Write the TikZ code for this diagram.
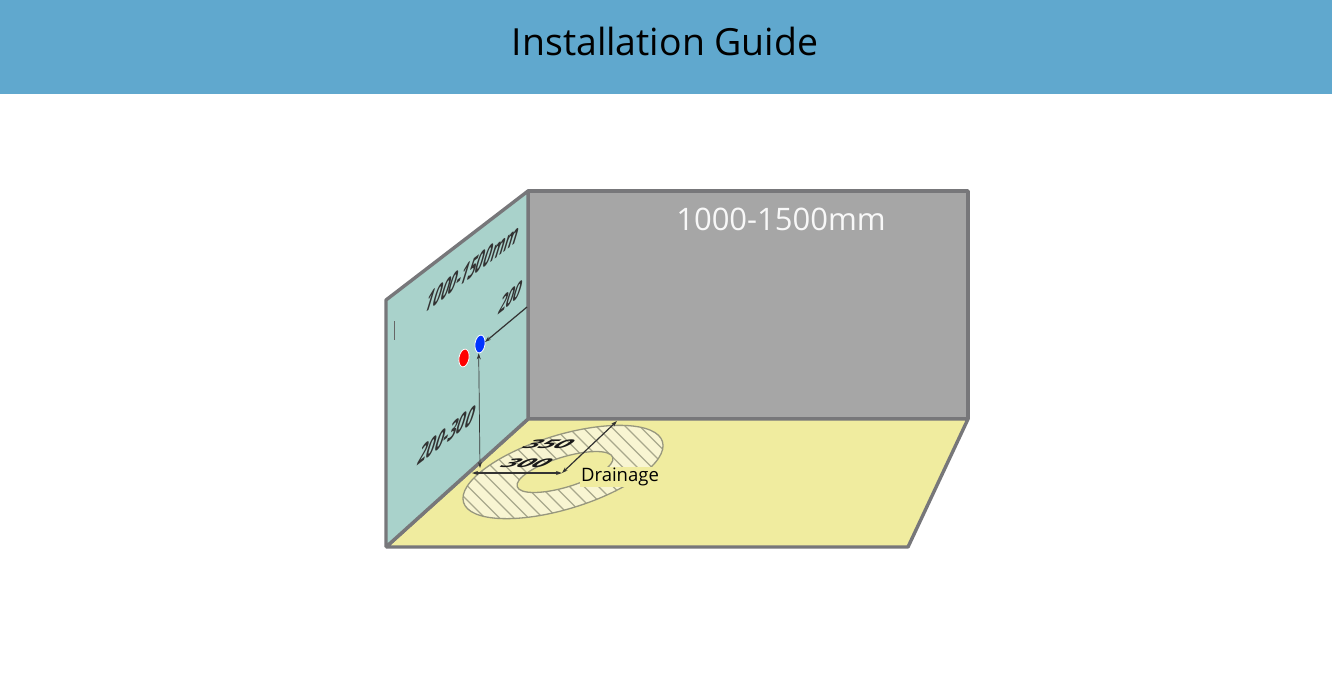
\documentclass[tikz,border=0pt]{standalone}
\usepackage{fontspec}
\setmainfont{Open Sans}
\usetikzlibrary{arrows.meta, positioning, shapes.geometric}
\definecolor{headerblue}{HTML}{60A8CE}
\definecolor{wallgrey}{HTML}{A6A6A6}
\definecolor{edgegrey}{HTML}{77777A}
\definecolor{wallteal}{HTML}{A9D2CB}
\definecolor{flooryellow}{HTML}{F0EC9F}
\definecolor{ringfill}{HTML}{F8F5D2}
\definecolor{hatchgrey}{HTML}{A8A88C}

\begin{document}
\begin{tikzpicture}[
    x=1pt, y=-1pt,
    face/.style={draw=edgegrey, line width=3.4pt, line join=bevel},
    dimline/.style={draw=black!80, {Stealth[length=6pt,width=4pt]}-{Stealth[length=6pt,width=4pt]}},
    walllabel/.style={text=black!80, inner sep=0pt, transform shape},
    floorlabel/.style={text=black!90, font=\fontsize{24}{26}\selectfont\bfseries\itshape, inner sep=0pt, transform shape},
    pipe/.style={ellipse, draw=white, line width=0.8pt, minimum width=10pt, minimum height=18pt, inner sep=0pt},
    wallskew/.style={cm={#1*0.788,#1*0.616,0.29,0.96,(0,0)}},
    floorskew/.style={cm={1.15,0,0.6,0.5,(0,0)}}
]
\useasboundingbox (0,0) rectangle (1332,675);

% Header
\fill[headerblue] (0,0) rectangle (1332,94);
\node[font=\fontsize{37.4}{42}\selectfont, text=black] (title) at (665,41) {Installation Guide};

% Walls and floor
\filldraw[face, fill=wallgrey] (528,191) -- (968,191) -- (968,419) -- (528,419) -- cycle;
\filldraw[face, fill=flooryellow] (386,547) -- (528,419) -- (968,419) -- (908,547) -- cycle;
\filldraw[face, fill=wallteal] (386,300) -- (528,191) -- (528,419) -- (386,547) -- cycle;

% Drain ring
\begin{scope}
    \clip[shift={(563,472)}, rotate=17] (0,0) ellipse [x radius=104, y radius=37];
    \fill[ringfill] (440,410) rectangle (680,530);
    \foreach \i in {0,...,26} {
        \draw[hatchgrey, line width=1.3pt] (\i*14.5+290,410) -- (\i*14.5+410,530);
    }
\end{scope}
\draw[hatchgrey!90!black, line width=1.3pt, shift={(563,472)}, rotate=17] (0,0) ellipse [x radius=104, y radius=37];
\filldraw[fill=flooryellow, draw=hatchgrey!90!black, line width=1.3pt, shift={(565,472)}, rotate=17] (0,0) ellipse [x radius=50, y radius=15];

% Pipes
\node[pipe, fill=red, rotate=-10] (hot) at (464,358) {};
\node[pipe, fill=blue!80!cyan, rotate=-8] (cold) at (480,344) {};

% Dimension ends
\coordinate (wallend) at (527,307);
\coordinate (cornerlow) at (480,468);
\coordinate (cornerleft) at (472,473);
\coordinate (draincentre) at (562,473);
\coordinate (backend) at (617,421);

% Dimensions
\draw[dimline, line width=1.2pt, {Stealth[length=6pt,width=4pt]}-] (cold) ++(5,-2) coordinate (coldtip) -- (wallend);
\draw[dimline, line width=0.7pt] (cold.south) -- (cornerlow);
\draw[dimline, line width=1.4pt] (cornerleft) -- (draincentre);
\draw[dimline, line width=1.2pt] (draincentre) -- (backend);

% Labels
\node[font=\fontsize{31}{34}\selectfont, text=white!92!wallgrey] (backwidth) at (781,219) {1000-1500mm};
\begin{scope}[shift={(473,268)}, wallskew=0.53]
    \node[walllabel, font=\fontsize{32}{34}\selectfont\bfseries] (sidewidth) at (0,0) {1000-1500mm};
\end{scope}
\begin{scope}[shift={(511,297)}, wallskew=0.58]
    \node[walllabel, font=\fontsize{28}{30}\selectfont\bfseries] (valveside) at (0,0) {200};
\end{scope}
\begin{scope}[shift={(447,435)}, wallskew=0.62]
    \node[walllabel, font=\fontsize{30}{32}\selectfont\bfseries] (valveheight) at (0,0) {200-300};
\end{scope}
\begin{scope}[shift={(527,463)}, floorskew]
    \node[floorlabel] (ringinner) at (0,0) {300};
\end{scope}
\begin{scope}[shift={(549,444)}, floorskew]
    \node[floorlabel] (ringouter) at (0,0) {350};
\end{scope}
\node[fill=flooryellow, inner sep=1pt, font=\fontsize{18.5}{20}\selectfont, text=black] (drain) at (620,477) {Drainage};

% Stray tick on the side wall
\coordinate (tickup) at (394,321);
\coordinate (tickdown) at (394,340);
\draw[black!60, line width=0.6pt] (tickup) -- (tickdown);

\end{tikzpicture}
\end{document}
